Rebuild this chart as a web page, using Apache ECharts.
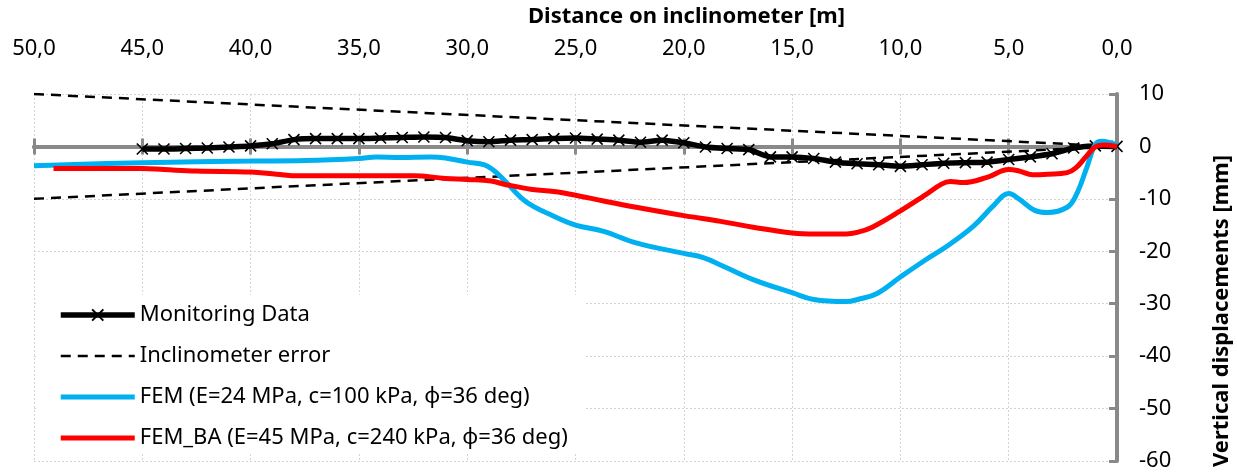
<!DOCTYPE html>
<html>
<head>
<meta charset="utf-8">
<script src="https://cdn.jsdelivr.net/npm/echarts@6/dist/echarts.min.js"></script>
<style>
  html, body { margin: 0; padding: 0; background: #fff; }
  #chart { width: 1237px; height: 472px; }
</style>
</head>
<body>
<div id="chart"></div>
<script>
// monitoring data (distance [m], displacement [mm])
var monDist = [45, 44, 43, 42, 41, 40, 39, 38, 37, 36, 35, 34, 33, 32, 31, 30, 29, 28, 27, 26, 25, 24, 23, 22, 21, 20, 19, 18, 17, 16, 15, 14, 13, 12, 11, 10, 9, 8, 7, 6, 5, 4, 3, 2, 1, 0];
var monVal = [-0.5, -0.5, -0.4, -0.3, -0.1, 0.1, 0.5, 1.3, 1.5, 1.5, 1.5, 1.6, 1.7, 1.8, 1.7, 1.1, 0.9, 1.2, 1.3, 1.5, 1.6, 1.4, 1.2, 0.8, 1.2, 0.7, -0.1, -0.4, -0.6, -2.0, -2.0, -2.3, -3.0, -3.3, -3.5, -3.8, -3.5, -3.2, -3.1, -3.0, -2.5, -2.0, -1.4, -0.3, 0.1, 0];

// inclinometer error envelope
var errDist = [50, 0];
var errUpper = [10, 0];
var errLower = [-10, 0];

// FEM
var femDist = [50, 45, 40, 37.5, 35, 34.2, 33.1, 31.7, 31, 30, 29.2, 28.8, 28.3, 27.3, 26, 25, 23.7, 22.2, 20, 19.1, 18.2, 16.8, 15, 14, 12.5, 11.9, 11.1, 10, 8.9, 7.7, 6.6, 5.7, 5, 4.5, 3.8, 3.2, 2.3, 1.9, 1.4, 1.0, 0.7, 0.3, 0];
var femVal = [-3.7, -3.1, -2.8, -2.7, -2.3, -2.0, -2.1, -2.0, -2.2, -3.0, -3.5, -4.5, -6.4, -10.5, -13.3, -15.0, -16.2, -18.4, -20.4, -21.2, -22.8, -25.4, -27.9, -29.2, -29.6, -29.1, -28.1, -24.9, -21.8, -18.6, -15.1, -11.3, -9.0, -10.1, -12.2, -12.6, -11.6, -9.4, -4.1, 0.4, 1.0, 0.7, 0.25];

// FEM_BA
var baDist = [49.1, 45, 44, 42.5, 40, 38.8, 37.8, 35, 32.5, 31, 30, 28.9, 28.2, 27, 26, 25, 23.7, 22.2, 20, 18.3, 16.8, 15, 13.9, 12.5, 12, 11.3, 10, 8.9, 8.1, 7.7, 7.1, 6, 5, 4.5, 3.9, 3.2, 2.3, 1.9, 1.4, 1, 0.6, 0];
var baVal = [-4.2, -4.2, -4.4, -4.7, -4.9, -5.3, -5.6, -5.6, -5.6, -6.1, -6.3, -6.6, -7.3, -8.2, -8.6, -9.3, -10.4, -11.6, -13.2, -14.3, -15.4, -16.5, -16.7, -16.7, -16.4, -15.4, -12.3, -9.4, -7.2, -6.7, -6.9, -5.9, -4.4, -4.7, -5.4, -5.3, -5.0, -4.1, -1.8, -0.1, 0.25, 0];

var seriesNames = ['Monitoring Data', 'Inclinometer error', 'FEM (E=24 MPa, c=100 kPa, ϕ=36 deg)', 'FEM_BA (E=45 MPa, c=240 kPa, ϕ=36 deg)'];

function pairs(xs, ys) {
    return xs.map(function (x, i) { return [x, ys[i]]; });
}

var FONT = 'Noto Sans';
var GRAY = '#898989';
var gridLine = { show: true, lineStyle: { color: '#d4d4d4', type: [2, 2], width: 1 } };
var noSymbol = { color: 'rgba(0,0,0,0)', borderWidth: 0 };

// gray axis drawn through y = 0, ticks cross it (one axis up, one down)
function zeroAxis(pos) {
    return {
        type: 'value', min: 0, max: 50, interval: 5, inverse: true, position: pos,
        axisLine: { show: true, onZero: true, onZeroAxisIndex: 0, lineStyle: { color: GRAY, width: 4 } },
        axisTick: { show: true, length: 8, lineStyle: { color: GRAY, width: 3 } },
        axisLabel: { show: false },
        splitLine: { show: false }
    };
}

var myChart = echarts.init(document.getElementById('chart'));
var option = {
    animation: false,
    backgroundColor: '#fff',
    textStyle: { fontFamily: FONT },
    title: {
        text: 'Distance on inclinometer [m]',
        left: 528,
        top: 6,
        padding: 0,
        textStyle: { fontFamily: FONT, fontSize: 22, fontWeight: 'bold', color: '#000' }
    },
    grid: { left: 34, right: 120, top: 94, bottom: 9 },
    xAxis: [{
        type: 'value', min: 0, max: 50, interval: 5, inverse: true, position: 'top',
        axisLine: { show: false, onZero: false },
        axisTick: { show: false },
        axisLabel: {
            fontSize: 22, color: '#000', margin: 34, fontFamily: FONT,
            formatter: function (v) { return v.toFixed(1).replace('.', ','); }
        },
        splitLine: gridLine
    }, zeroAxis('bottom'), zeroAxis('top')],
    yAxis: {
        type: 'value', min: -60, max: 10, interval: 10, position: 'right',
        axisLine: { show: true, onZero: false, lineStyle: { color: GRAY, width: 4 } },
        axisTick: { show: true, inside: true, length: 8, lineStyle: { color: GRAY, width: 3 } },
        axisLabel: { fontSize: 22, color: '#000', margin: 22, fontFamily: FONT },
        splitLine: gridLine
    },
    graphic: [{
        type: 'text',
        x: 1222, y: 311,
        rotation: Math.PI / 2,
        style: {
            text: 'Vertical displacements [mm]',
            font: 'bold 22px "Noto Sans"',
            fill: '#000',
            textAlign: 'center',
            textVerticalAlign: 'middle'
        }
    }],
    legend: {
        data: [
            { name: seriesNames[0] },
            { name: seriesNames[1], itemStyle: noSymbol },
            { name: seriesNames[2], itemStyle: noSymbol },
            { name: seriesNames[3], itemStyle: noSymbol }
        ],
        orient: 'vertical',
        left: 36, top: 295,
        backgroundColor: '#fff',
        padding: [7, 18, 2, 22],
        itemWidth: 74, itemHeight: 14, itemGap: 15,
        lineStyle: { width: 'inherit' },
        textStyle: { fontSize: 22, color: '#000', fontFamily: FONT, lineHeight: 26 }
    },
    series: [{
        name: seriesNames[0],
        type: 'line',
        data: pairs(monDist, monVal),
        smooth: 0.2,
        symbol: 'path://M0,0L10,10M10,0L0,10',
        symbolSize: 11,
        lineStyle: { color: '#000', width: 5.5 },
        itemStyle: { color: '#000', borderColor: '#000', borderWidth: 1.6 },
        z: 3
    }, {
        name: seriesNames[1],
        type: 'line',
        data: pairs(errDist, errUpper),
        symbol: 'none',
        lineStyle: { color: '#000', width: 2.5, type: [10, 7] },
        itemStyle: { color: '#000' },
        z: 4
    }, {
        name: seriesNames[1],
        type: 'line',
        data: pairs(errDist, errLower),
        symbol: 'none',
        lineStyle: { color: '#000', width: 2.5, type: [10, 7] },
        itemStyle: { color: '#000' },
        z: 4
    }, {
        name: seriesNames[2],
        type: 'line',
        data: pairs(femDist, femVal),
        smooth: 0.4,
        symbol: 'none',
        lineStyle: { color: '#00B0F0', width: 5 },
        itemStyle: { color: '#00B0F0' },
        z: 5
    }, {
        name: seriesNames[3],
        type: 'line',
        data: pairs(baDist, baVal),
        smooth: 0.4,
        symbol: 'none',
        lineStyle: { color: '#FF0000', width: 5 },
        itemStyle: { color: '#FF0000' },
        z: 6
    }]
};
myChart.setOption(option);
</script>
</body>
</html>
